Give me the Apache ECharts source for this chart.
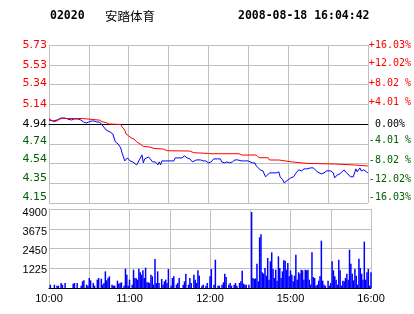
<!DOCTYPE html>
<html><head><meta charset="utf-8">
<script src="https://cdn.jsdelivr.net/npm/echarts@6/dist/echarts.min.js"></script>
<style>html,body{margin:0;padding:0;background:#fff}#c{width:414px;height:314px}</style>
</head><body><div id="c"></div>
<script>
const stockCode = '02020';
const stockName = '安踏体育';
const stamp = '2008-08-18 16:04:42';
const prevClose = 4.94;
const priceStep = 0.198;
const priceLabels = ['4.15','4.35','4.54','4.74','4.94','5.14','5.34','5.53','5.73'];
const pctLabels = ['-16.03%','-12.02%','-8.02 %','-4.01 %','\u00a00.00%','+4.01 %','+8.02 %','+12.02%','+16.03%'];
const timeLabels = ['10:00','','11:00','','12:00','','15:00','','16:00'];
const volLabels = ['','1225','2450','3675','4900'];

const priceMinutes = [0,3,6,7,9,12,14,17,19,22,24,26,28,30,32,34,36,38,40,41,43,44,46,48,49,50,52,54,55,56,57,58,59,61,63,64,66,67,68,70,71,72,73,75,76,78,80,82,83,84,85,88,91,94,95,97,100,102,104,106,108,109,111,114,116,118,120,121,122,124,127,129,130,132,134,136,138,140,142,145,147,150,151,153,154,155,156,157,159,160,161,162,163,164,166,167,168,171,173,174,176,177,178,180,182,183,184,186,187,188,190,192,194,197,199,200,202,203,205,207,208,209,210,212,213,214,215,217,218,219,220,222,223,224,225,227,229,230,231,232,233,234,235,237,238,239,240];
const prices = [4.98,4.97,4.98,4.99,5.00,5.00,4.99,4.98,4.99,4.99,4.98,4.96,4.95,4.96,4.97,4.97,4.96,4.96,4.93,4.91,4.88,4.86,4.86,4.84,4.82,4.76,4.74,4.70,4.65,4.63,4.57,4.56,4.60,4.57,4.56,4.55,4.53,4.55,4.58,4.63,4.55,4.59,4.61,4.61,4.59,4.56,4.56,4.53,4.56,4.53,4.57,4.57,4.57,4.57,4.60,4.60,4.60,4.62,4.60,4.59,4.56,4.58,4.58,4.58,4.57,4.57,4.55,4.53,4.56,4.59,4.59,4.59,4.56,4.55,4.56,4.55,4.56,4.58,4.58,4.57,4.57,4.57,4.58,4.55,4.55,4.55,4.52,4.51,4.48,4.46,4.47,4.44,4.41,4.39,4.45,4.43,4.45,4.45,4.46,4.41,4.38,4.35,4.36,4.38,4.40,4.40,4.41,4.45,4.47,4.48,4.47,4.49,4.49,4.50,4.50,4.49,4.46,4.45,4.44,4.45,4.44,4.47,4.48,4.47,4.45,4.45,4.40,4.43,4.45,4.44,4.46,4.48,4.48,4.45,4.43,4.41,4.41,4.45,4.49,4.46,4.48,4.50,4.47,4.48,4.47,4.46,4.45];

const avgMinutes = [0,2,4,6,8,10,25,26,38,40,43,45,54,55,57,58,60,62,64,66,69,71,76,79,86,89,106,109,120,122,143,145,156,157,158,165,166,173,174,183,184,194,195,215,216,230,231,240];
const avgPrices = [4.995,4.975,4.962,4.972,4.989,4.995,4.995,4.982,4.979,4.962,4.955,4.94,4.935,4.912,4.879,4.84,4.82,4.80,4.789,4.762,4.735,4.715,4.709,4.695,4.689,4.672,4.669,4.652,4.645,4.642,4.642,4.629,4.629,4.612,4.602,4.602,4.579,4.579,4.562,4.56,4.545,4.545,4.539,4.539,4.529,4.529,4.519,4.519];

const volMinutes = [1,4,6,7,9,10,12,18,19,21,24,25,26,28,29,30,31,33,34,36,37,39,40,41,42,43,44,45,47,48,49,51,52,53,54,56,57,58,59,60,62,63,64,65,66,67,68,69,70,71,72,73,74,75,76,77,78,79,80,81,82,84,85,86,87,88,89,91,92,93,95,96,97,100,101,102,104,105,106,108,109,110,111,112,114,115,117,118,120,121,123,124,126,127,129,130,131,132,134,135,136,138,139,140,142,143,144,145,146,147,149,151,152,153,154,155,156,157,158,159,160,161,162,163,164,165,166,167,168,169,170,171,172,173,174,175,176,177,178,179,180,181,182,183,184,185,186,187,188,189,190,191,192,193,194,195,196,197,198,199,200,201,202,203,204,205,206,208,209,210,211,212,213,214,215,216,217,218,219,220,221,222,223,224,225,226,227,228,229,230,231,232,233,234,235,236,237,238,239,240];
const volumes = [207,207,145,145,310,207,310,269,310,310,145,413,475,207,145,620,475,310,145,517,620,579,207,310,1033,475,620,723,207,145,145,455,269,310,351,145,1198,827,145,517,207,1136,620,600,517,1198,971,827,1095,620,1260,351,351,310,827,723,207,1798,310,1033,310,558,207,413,517,310,1178,145,620,723,207,310,620,207,413,889,207,620,310,827,517,310,1095,765,145,207,145,310,723,1178,207,1755,145,145,207,351,889,682,207,310,145,207,310,145,310,413,1075,269,207,207,207,4712,620,558,600,1509,413,3141,3327,971,889,1240,765,1860,517,1653,2211,1178,620,1136,455,1963,1240,620,1033,1716,1695,1136,1550,723,1095,827,413,765,2067,517,971,889,1136,1095,517,1136,1095,1136,517,207,2211,682,620,145,207,455,723,2934,455,207,145,455,145,310,1653,1095,723,517,207,1757,1095,145,455,413,620,889,517,2377,1509,889,475,1178,765,207,1819,1240,889,517,2873,517,971,1178,145,971];

// ---- presentation ----
const RED = '#ff0000', GREEN = '#006000', BLUE = '#0000ff', GRID = '#c0c0c0';
const labelColor = i => i < 4 ? GREEN : (i === 4 ? '#000' : RED);
const leftShift = [6,5,4,3,0,0,1,0,0];
const rightShift = [6,4,3,3,0,2,1,1,0];
const volShift = [0,1.3,2.5,3.5,4.4];

function richFor(shifts, font, size, colorFn, down) {
  const r = {};
  shifts.forEach((s, i) => {
    r['s' + i] = {
      fontFamily: font, fontSize: size, color: colorFn(i),
      padding: down ? [2 * s, 0, 0, 0] : [0, 0, 2 * s, 0]
    };
  });
  return r;
}

const toUnits = p => (p - prevClose) / priceStep;
const priceData = priceMinutes.map((m, i) => [m, toUnits(prices[i])]);
const avgData = avgMinutes.map((m, i) => [m, toUnits(avgPrices[i])]);
const volData = volMinutes.map((m, i) => [m, volumes[i]]);

const chart = echarts.init(document.getElementById('c'), null, {renderer: 'canvas'});
chart.setOption({
  animation: false,
  backgroundColor: '#fff',
  graphic: [
    {type: 'text', x: 50, y: 16, style: {text: stockCode, font: 'bold 11.5px "DejaVu Sans Mono"', fill: '#000', verticalAlign: 'middle'}},
    {type: 'text', x: 105, y: 16, style: {text: stockName, font: '12.5px "Noto Sans CJK SC"', fill: '#000', verticalAlign: 'middle'}},
    {type: 'text', x: 238, y: 16, style: {text: stamp, font: 'bold 11.5px "DejaVu Sans Mono"', fill: '#000', verticalAlign: 'middle'}}
  ],
  grid: [
    {left: 49, right: 43, top: 45, height: 158},
    {left: 49, right: 43, top: 209, height: 79}
  ],
  xAxis: [
    {type: 'value', gridIndex: 0, min: 0, max: 240, interval: 30,
     axisLine: {show: true, lineStyle: {color: '#000', width: 1}}, axisTick: {show: false}, axisLabel: {show: false},
     splitLine: {show: true, lineStyle: {color: GRID, width: 1}}},
    {type: 'value', gridIndex: 1, min: 0, max: 240, interval: 30,
     axisLine: {show: true, lineStyle: {color: '#000', width: 1}}, axisTick: {show: false},
     axisLabel: {show: true, margin: 5, fontFamily: 'Liberation Sans', fontSize: 11, color: '#000',
       formatter: v => timeLabels[Math.round(v / 30)] || ''},
     splitLine: {show: true, lineStyle: {color: GRID, width: 1}}}
  ],
  yAxis: [
    {type: 'value', gridIndex: 0, position: 'left', min: -4, max: 4, interval: 1,
     axisLine: {show: false}, axisTick: {show: false},
     splitLine: {show: true, lineStyle: {color: GRID, width: 1}},
     axisLabel: {margin: 2, fontFamily: 'DejaVu Sans', fontSize: 11,
       formatter: v => { const i = Math.round(v + 4); return '{s' + i + '|' + priceLabels[i] + '}'; },
       rich: richFor(leftShift, 'DejaVu Sans', 11, labelColor, false)}},
    {type: 'value', gridIndex: 0, position: 'right', min: -4, max: 4, interval: 1,
     axisLine: {show: false}, axisTick: {show: false}, splitLine: {show: false},
     axisLabel: {margin: 1, fontFamily: 'DejaVu Sans Mono', fontSize: 10,
       formatter: v => { const i = Math.round(v + 4); return '{s' + i + '|' + pctLabels[i] + '}'; },
       rich: richFor(rightShift, 'DejaVu Sans Mono', 10, labelColor, false)}},
    {type: 'value', gridIndex: 1, position: 'left', min: 0, max: 4900, interval: 1225,
     axisLine: {show: false}, axisTick: {show: false},
     splitLine: {show: true, lineStyle: {color: GRID, width: 1}},
     axisLabel: {margin: 2, fontFamily: 'Liberation Sans', fontSize: 11,
       formatter: v => { const i = Math.round(v / 1225); return volLabels[i] ? '{s' + i + '|' + volLabels[i] + '}' : ''; },
       rich: richFor(volShift, 'Liberation Sans', 11, () => '#000', true)}}
  ],
  series: [
    {type: 'line', xAxisIndex: 0, yAxisIndex: 0, data: priceData, symbol: 'none', z: 3,
     lineStyle: {color: BLUE, width: 1}, silent: true,
     markLine: {silent: true, symbol: 'none', label: {show: false}, z: 1,
       lineStyle: {color: '#000', width: 1, type: 'solid'}, data: [{yAxis: 0}]}},
    {type: 'line', xAxisIndex: 0, yAxisIndex: 0, data: avgData, symbol: 'none', z: 4,
     lineStyle: {color: RED, width: 1}, silent: true},
    {type: 'bar', xAxisIndex: 1, yAxisIndex: 2, data: volData, barWidth: 1.5,
     itemStyle: {color: BLUE}, silent: true}
  ]
});
</script></body></html>
